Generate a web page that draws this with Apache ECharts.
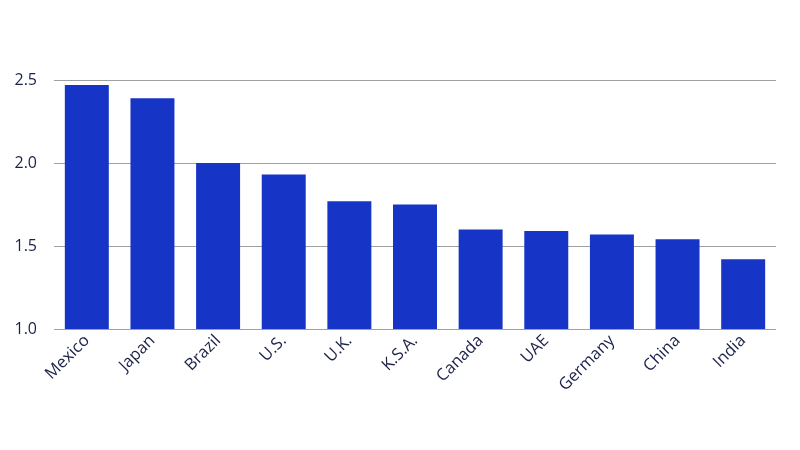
<!DOCTYPE html>
<html>
<head>
<meta charset="utf-8">
<script src="https://cdn.jsdelivr.net/npm/echarts@6/dist/echarts.min.js"></script>
<style>
  html, body { margin: 0; padding: 0; background: #fff; }
  #chart { width: 800px; height: 450px; }
</style>
</head>
<body>
<div id="chart"></div>
<script>
var countries = ['Mexico', 'Japan', 'Brazil', 'U.S.', 'U.K.', 'K.S.A.', 'Canada', 'UAE', 'Germany', 'China', 'India'];
var values = [2.47, 2.39, 2.0, 1.93, 1.77, 1.75, 1.6, 1.59, 1.57, 1.54, 1.42];

(function() {
  var myChart = echarts.init(document.getElementById('chart'));
  var option;

  option = {
    animation: false,
    grid: {
      left: 54,
      right: 24,
      top: 80,
      bottom: 121
    },
    xAxis: {
      type: 'category',
      data: countries,
      axisLine: { show: false },
      axisTick: { show: false },
      axisLabel: {
        rotate: 45,
        interval: 0,
        margin: 9,
        color: '#1b2149',
        fontSize: 16.5,
        fontFamily: 'Open Sans'
      }
    },
    yAxis: {
      type: 'value',
      min: 1,
      max: 2.5,
      interval: 0.5,
      axisLine: { show: false },
      axisTick: { show: false },
      splitLine: {
        lineStyle: { color: '#a0a0a0', width: 1 }
      },
      axisLabel: {
        margin: 17,
        color: '#1b2149',
        fontSize: 16,
        fontFamily: 'Open Sans',
        formatter: function(v) { return v.toFixed(1); }
      }
    },
    series: [
      {
        type: 'bar',
        barWidth: '67%',
        itemStyle: { color: '#1634c6' },
        data: values
      }
    ]
  };

  option && myChart.setOption(option);
})();
</script>
</body>
</html>
